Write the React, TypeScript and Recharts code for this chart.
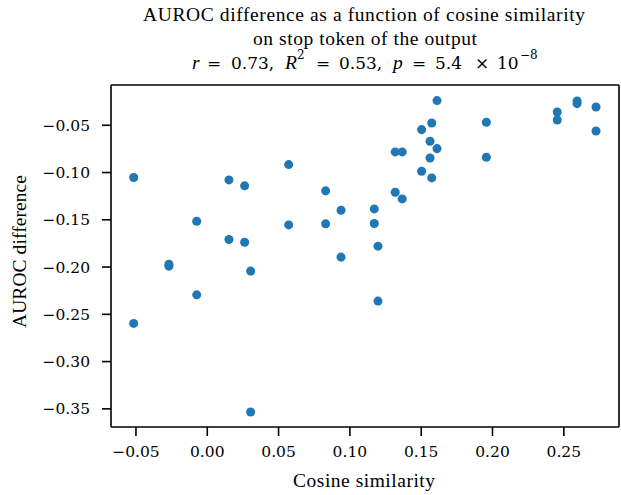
import {
  ReferenceLine,
  Scatter,
  ScatterChart,
  XAxis,
  YAxis,
  ZAxis,
} from "recharts";

// values
const cosineSimilarity = [
  -0.0516, 0.0152, 0.0262, 0.0571, 0.083, 0.0938, -0.0074, 0.0571, 0.083,
  0.0152, 0.0262, -0.0269, -0.0269, 0.0304, 0.0938, 0.1611, 0.2593, 0.2593,
  0.2726, 0.2454, 0.2454, 0.1957, 0.1574, 0.1503, 0.2726, 0.1562, 0.1611,
  0.1318, 0.1367, 0.1562, 0.1957, 0.1503, 0.1574, 0.1318, 0.1367, 0.1171,
  0.1171, 0.1197, -0.0516, -0.0074, 0.0304, 0.1197,
];

const aurocDifference = [
  -0.1053, -0.1078, -0.1141, -0.0916, -0.1194, -0.1399, -0.1515, -0.1554,
  -0.1543, -0.1708, -0.1737, -0.197, -0.199, -0.2043, -0.1895, -0.0239,
  -0.0243, -0.0271, -0.0307, -0.0359, -0.0444, -0.0468, -0.0476, -0.0546,
  -0.056, -0.0669, -0.0747, -0.0782, -0.0782, -0.0846, -0.0838, -0.0986,
  -0.1057, -0.1208, -0.1279, -0.1385, -0.1539, -0.1779, -0.2596, -0.2294,
  -0.3534, -0.236,
];

const xTicks = [-0.05, 0, 0.05, 0.1, 0.15, 0.2, 0.25];
const yTicks = [-0.35, -0.3, -0.25, -0.2, -0.15, -0.1, -0.05];

const X_DOMAIN: [number, number] = [-0.0675, 0.2887];
const Y_DOMAIN: [number, number] = [-0.3692, -0.0074];

const points = cosineSimilarity.map((x, i) => ({ x, y: aurocDifference[i] }));

const fmt = (v: number) => (v < 0 ? "\u2212" : "") + Math.abs(v).toFixed(2);

const serif = "'Liberation Serif', 'Times New Roman', serif";
const tickFont = "'DejaVu Serif', serif";

export default function App() {
  return (
    <div
      style={{
        position: "absolute",
        left: 0,
        top: 0,
        width: 621,
        height: 495,
        background: "#fff",
      }}
    >
      <ScatterChart
        width={621}
        height={495}
        margin={{ top: 85, right: 2, bottom: 0, left: 0 }}
      >
        <XAxis
          type="number"
          dataKey="x"
          domain={X_DOMAIN}
          allowDataOverflow
          ticks={xTicks}
          tickFormatter={fmt}
          height={68}
          tickSize={9}
          tickMargin={10}
          stroke="#000"
          strokeWidth={1.6}
          tick={{ fill: "#000", fontFamily: tickFont, fontSize: 15.5 }}
        />
        <YAxis
          type="number"
          dataKey="y"
          domain={Y_DOMAIN}
          allowDataOverflow
          ticks={yTicks}
          tickFormatter={fmt}
          width={111}
          tickSize={9}
          tickMargin={12}
          stroke="#000"
          strokeWidth={1.6}
          tick={{ fill: "#000", fontFamily: tickFont, fontSize: 15.5 }}
        />
        <ZAxis range={[85, 85]} />
        <ReferenceLine y={Y_DOMAIN[1]} stroke="#000" strokeWidth={1.6} />
        <ReferenceLine x={X_DOMAIN[1]} stroke="#000" strokeWidth={1.6} />
        <Scatter data={points} fill="#1f77b4" isAnimationActive={false} />
      </ScatterChart>
      <svg
        width={621}
        height={495}
        style={{ position: "absolute", left: 0, top: 0, pointerEvents: "none" }}
        fontFamily={serif}
        fill="#000"
      >
        <text
          x={143}
          y={21}
          fontSize={19.5}
          textLength={442}
          lengthAdjust="spacing"
        >
          AUROC difference as a function of cosine similarity
        </text>
        <text
          x={253}
          y={44.5}
          fontSize={19.5}
          textLength={224}
          lengthAdjust="spacing"
        >
          on stop token of the output
        </text>
        <text y={69} fontSize={17} fontFamily={tickFont}>
          <tspan x={192} fontStyle="italic" fontFamily={serif} fontSize={19.5}>r</tspan>
          <tspan x={207}>=</tspan>
          <tspan x={231}>0.73,</tspan>
          <tspan x={285} fontStyle="italic" fontFamily={serif} fontSize={19.5}>R</tspan>
          <tspan x={297} dy={-10} fontSize={12}>2</tspan>
          <tspan x={316} dy={10}>=</tspan>
          <tspan x={339}>0.53,</tspan>
          <tspan x={393} fontStyle="italic" fontFamily={serif} fontSize={19.5}>p</tspan>
          <tspan x={412}>=</tspan>
          <tspan x={435}>5.4</tspan>
          <tspan x={475}>×</tspan>
          <tspan x={497}>10</tspan>
          <tspan x={520} dy={-10} fontSize={12}>{"\u2212"}8</tspan>
        </text>
        <text
          x={0}
          y={0}
          transform="translate(26, 328) rotate(-90)"
          fontSize={19.5}
          textLength={153}
          lengthAdjust="spacing"
        >
          AUROC difference
        </text>
        <text
          x={293}
          y={487}
          fontSize={19.5}
          textLength={142}
          lengthAdjust="spacing"
        >
          Cosine similarity
        </text>
      </svg>
    </div>
  );
}
